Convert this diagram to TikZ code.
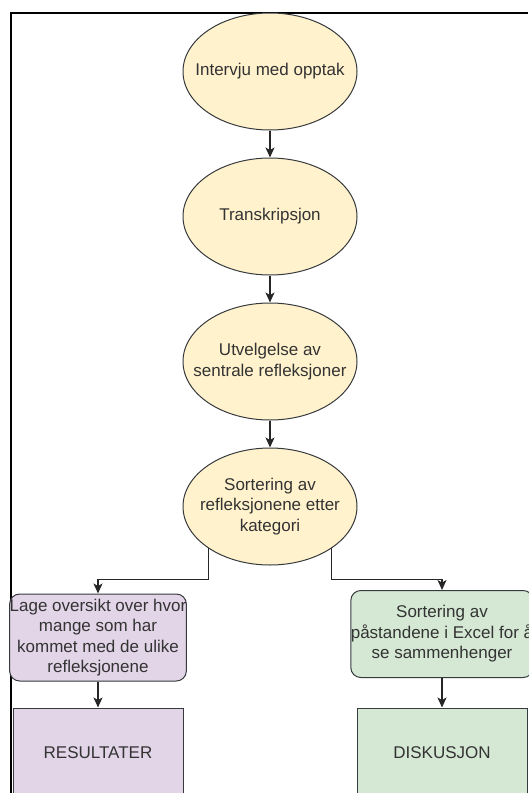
\documentclass[tikz,border=0pt]{standalone}
\usepackage{fontspec}
\setmainfont{Liberation Sans}
\usetikzlibrary{arrows.meta,shapes.geometric}
\definecolor{phaseF}{HTML}{FFF2CC}
\definecolor{resF}{HTML}{E1D5E7}
\definecolor{disF}{HTML}{D5E8D4}
\definecolor{edgeD}{HTML}{36393D}

\begin{document}
\begin{tikzpicture}[x=1pt, y=-1pt, >={Stealth[length=10pt,width=9pt,inset=2.5pt]}]
\tikzset{
  lbl/.style={font=\fontsize{17}{20.5}\selectfont, text=black!80, align=center, inner sep=0pt},
  phase/.style={lbl, ellipse, draw=edgeD, fill=phaseF, line width=1pt, inner sep=-30pt, minimum width=174pt, minimum height=117pt},
  task/.style={lbl, rectangle, rounded corners=10pt, draw=edgeD, line width=1pt, minimum width=170pt, minimum height=87pt},
  outcome/.style={lbl, rectangle, draw=edgeD, line width=1pt, minimum width=170pt, minimum height=90pt},
  flow/.style={->, line width=1.1pt, black!85}
}
\useasboundingbox (0,0) rectangle (528,793);
% frame
\draw[line width=2pt] (11,793) -- (11,13) -- (528,13);
% phases
\node[phase] (intervju) at (270,71.5) {Intervju med opptak};
\node[phase] (transkr) at (270,216.5) {Transkripsjon};
\node[phase] (utvalg) at (270,361.5) {Utvelgelse av\\sentrale refleksjoner};
\node[phase] (sortering) at (270,506.5) {Sortering av\\refleksjonene etter\\kategori};
% branches
\node[task, fill=resF] (oversikt) at (98,637.5) {Lage oversikt over hvor\\mange som har\\kommet med de ulike\\refleksjonene};
\node[task, fill=disF] (excel) at (442,634) {Sortering av\\påstandene i Excel for å\\se sammenhenger};
\node[outcome, fill=resF] (resultater) at (98,753) {RESULTATER};
\node[outcome, fill=disF] (diskusjon) at (442,753) {DISKUSJON};
% connectors
\draw[flow] (intervju) -- (transkr);
\draw[flow] (transkr) -- (utvalg);
\draw[flow] (utvalg) -- (sortering);
\draw[flow] (sortering.south west) -- ++(0,31) -| (oversikt.north);
\draw[flow] (sortering.south east) -- ++(0,31) -| (excel.north);
\draw[flow] (oversikt) -- (resultater);
\draw[flow] (excel) -- (diskusjon);
\end{tikzpicture}
\end{document}
